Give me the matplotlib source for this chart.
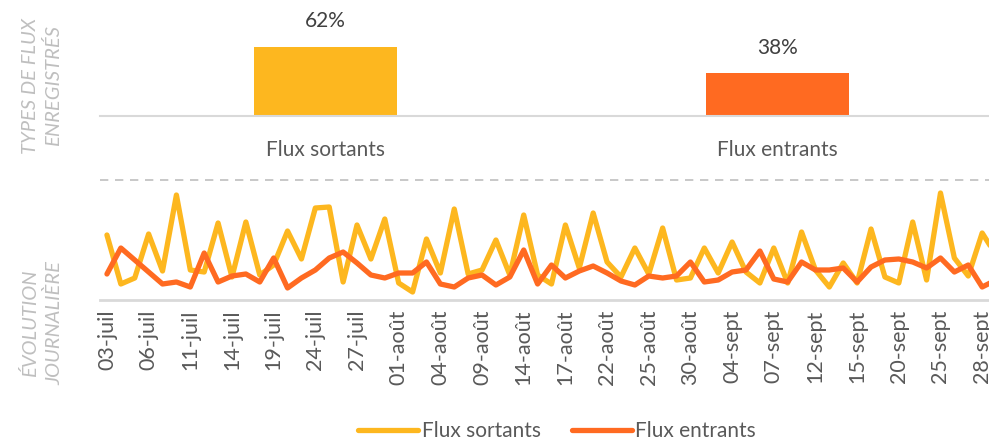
import matplotlib
matplotlib.use("Agg")
import matplotlib.pyplot as plt
from matplotlib.lines import Line2D

plt.rcParams['font.family'] = ['Lato', 'DejaVu Sans']

# ---- data ----
categories = ["Flux sortants", "Flux entrants"]
shares = [62, 38]

sortants = [65, 16, 22, 66, 29, 105, 30, 28, 77, 23, 78, 25, 35, 69, 41, 92, 93, 18, 75, 41,
            81, 17, 8, 61, 27, 91, 26, 30, 60, 25, 85, 25, 16, 75, 32, 87, 38, 23, 52, 26,
            72, 20, 22, 52, 27, 58, 28, 17, 52, 17, 68, 30, 13, 37, 17, 71, 23, 17, 78, 20,
            107, 42, 24, 67, 45]
entrants = [26, 52, 40, 28, 16, 18, 13, 47, 18, 24, 26, 18, 42, 12, 22, 30, 42, 48, 37, 25,
            22, 27, 27, 38, 16, 13, 22, 25, 15, 23, 50, 16, 35, 22, 29, 34, 27, 19, 15, 24,
            22, 24, 38, 18, 20, 28, 30, 49, 21, 18, 38, 30, 30, 32, 18, 33, 40, 41, 38, 32,
            42, 28, 35, 13, 20]
tick_labels = ["03-juil", "06-juil", "11-juil", "14-juil", "19-juil", "24-juil", "27-juil",
               "01-août", "04-août", "09-août", "14-août", "17-août", "22-août", "25-août",
               "30-août", "04-sept", "07-sept", "12-sept", "15-sept", "20-sept", "25-sept",
               "28-sept"]

YELLOW = "#FDB71F"
ORANGE = "#FF6A21"
TXT = "#595959"
LIGHT = "#BFBFBF"
GRID = "#D9D9D9"

W, H = 989, 441
fig = plt.figure(figsize=(W / 100, H / 100), dpi=100)

def frac(x0, y_top, x1, y_bot):
    return [x0 / W, (H - y_bot) / H, (x1 - x0) / W, (y_bot - y_top) / H]

# ---- top bar panel ----
axb = fig.add_axes(frac(100, 4, 1003, 116))
xb = list(range(len(categories)))
bars = axb.bar(xb, shares, width=0.317, color=[YELLOW, ORANGE])
axb.set_xlim(-0.5, 1.5)
axb.set_ylim(0, 100)
for b, v in zip(bars, shares):
    axb.text(b.get_x() + b.get_width() / 2, v + 14, f"{v}%", ha="center", va="bottom",
             fontsize=15, color="#404040")
for s in ["top", "right", "left"]:
    axb.spines[s].set_visible(False)
axb.spines["bottom"].set_color(GRID)
axb.spines["bottom"].set_linewidth(1.5)
axb.set_yticks([])
axb.set_xticks(xb)
axb.set_xticklabels(categories, fontsize=15, color=TXT)
axb.tick_params(axis="x", length=0, pad=17)

# ---- bottom line panel ----
axl = fig.add_axes(frac(100, 180, 1003, 300))
x = list(range(len(sortants)))
axl.plot(x, sortants, color=YELLOW, lw=3.8, solid_joinstyle="round", solid_capstyle="round",
         label="Flux sortants")
axl.plot(x, entrants, color=ORANGE, lw=3.8, solid_joinstyle="round", solid_capstyle="round",
         label="Flux entrants")
axl.set_xlim(-0.5, len(x) - 0.5)
axl.set_ylim(0, 120)
for s in ["top", "right", "left"]:
    axl.spines[s].set_visible(False)
axl.spines["bottom"].set_color(GRID)
axl.spines["bottom"].set_linewidth(2)
axl.set_yticks([])
axl.set_xticks(list(range(0, 3 * len(tick_labels), 3)))
axl.set_xticklabels(tick_labels, rotation=90, fontsize=15.5, color=TXT)
axl.tick_params(axis="x", length=0, pad=7)

# dashed separator
fig.add_artist(Line2D([100 / W, 1.0], [(H - 180) / H] * 2, color=LIGHT, lw=1.2,
                      linestyle=(0, (5, 4))))

# side labels
fig.text(42 / W, (H - 86) / H, "TYPES DE FLUX\nENREGISTRÉS", rotation=90, ha="center",
         va="center", multialignment="center", fontsize=14.5, style="italic", color=LIGHT,
         linespacing=1.4)
fig.text(42 / W, (H - 323) / H, "ÉVOLUTION\nJOURNALIÈRE", rotation=90, ha="center",
         va="center", multialignment="center", fontsize=14.5, style="italic", color=LIGHT,
         linespacing=1.4)

# legend
fig.legend(handles=axl.get_lines(), loc="center", bbox_to_anchor=(557 / W, (H - 431) / H),
           ncol=2, frameon=False, fontsize=15, labelcolor=TXT, handlelength=2.9,
           handletextpad=0.15, columnspacing=1.5)

fig.savefig("out.png", dpi=100)
